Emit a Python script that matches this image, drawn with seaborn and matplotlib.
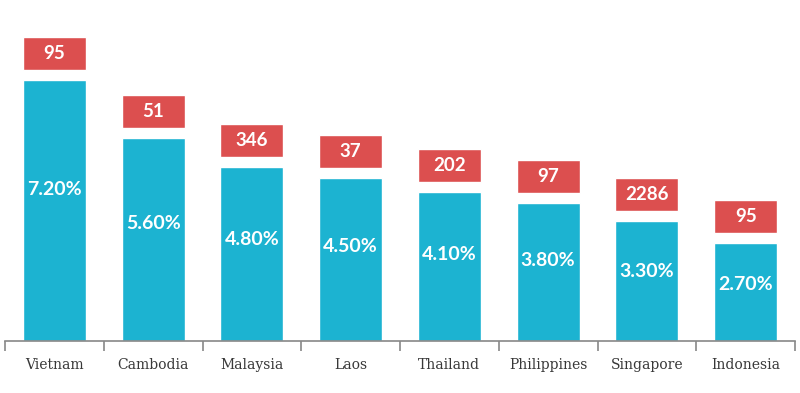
import numpy as np
import pandas as pd
import matplotlib
matplotlib.use("Agg")
import matplotlib.pyplot as plt
import seaborn as sns

countries = ['Vietnam', 'Cambodia', 'Malaysia', 'Laos', 'Thailand',
             'Philippines', 'Singapore', 'Indonesia']
growth = [7.20, 5.60, 4.80, 4.50, 4.10, 3.80, 3.30, 2.70]
counts = [95, 51, 346, 37, 202, 97, 2286, 95]

df = pd.DataFrame({'country': countries, 'growth': growth, 'count': counts})

sns.set_theme(style="white")
label_font = ['Lato', 'DejaVu Sans']

fig = plt.figure(figsize=(8, 3.93), dpi=100)
ax = fig.add_axes([5 / 800, 52 / 393, 790 / 800, 341 / 393])

sns.barplot(data=df, x='country', y='growth', color='#1cb3d1', width=0.64,
            saturation=1, ax=ax)

# red count boxes above each bar
gap = 0.27
box_h = 0.91
x = np.arange(len(countries))
vals = np.array(growth)
ax.bar(x, box_h, bottom=vals + gap, width=0.64, color='#dc4f4f')

for i, (g, c) in enumerate(zip(growth, counts)):
    ax.text(i, g * 0.58, f'{g:.2f}%', ha='center', va='center', color='white',
            fontsize=14, fontweight='bold', family=label_font)
    ax.text(i, g + gap + box_h / 2, str(c), ha='center', va='center',
            color='white', fontsize=13.5, fontweight='bold', family=label_font)

ax.set_xlim(-0.5, len(countries) - 0.5)
ax.set_ylim(0, 9.39)
ax.set_xlabel('')
ax.set_ylabel('')
ax.set_yticks([])

for s in ['top', 'right', 'left']:
    ax.spines[s].set_visible(False)
ax.spines['bottom'].set_color('#888888')
ax.spines['bottom'].set_linewidth(1.2)

ax.set_xticks(np.arange(-0.5, len(countries)), minor=True)
ax.tick_params(axis='x', which='minor', length=7, width=1.2, color='#888888',
               bottom=True)
ax.tick_params(axis='x', which='major', length=0, pad=12, labelsize=10,
               labelcolor='#383838')
for lab in ax.get_xticklabels():
    lab.set_family(['DejaVu Serif'])

fig.savefig('out.png', dpi=100)
